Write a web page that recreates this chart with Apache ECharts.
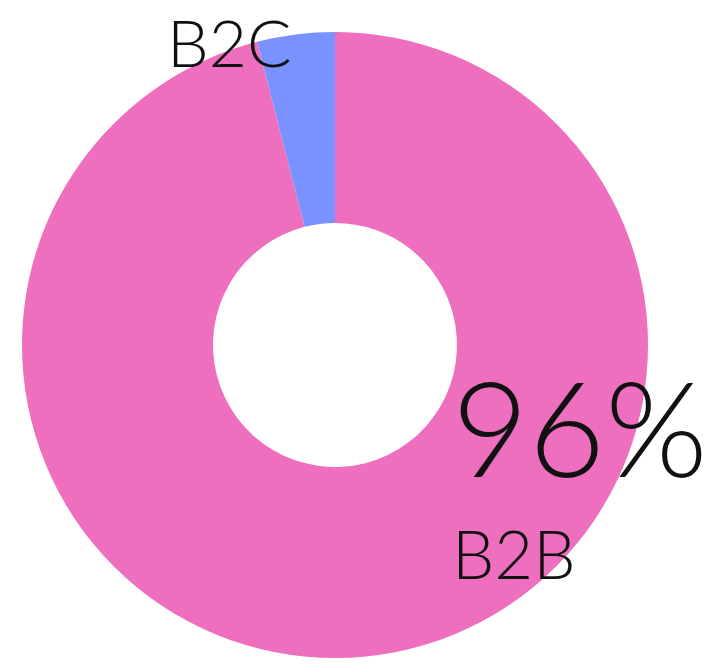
<!DOCTYPE html>
<html>
<head>
<meta charset="utf-8">
<script src="https://cdn.jsdelivr.net/npm/echarts@6/dist/echarts.min.js"></script>
<style>
  html, body { margin: 0; padding: 0; background: #fff; }
  #chartPieBox { width: 708px; height: 664px; }
</style>
</head>
<body>
<div id="chartPieBox"></div>
<script>
// 数据
var categories = ['B2B', 'B2C'];
var shares = [96, 4];
var colors = ['#ED6FBE', '#7992FF'];

var pieData = categories.map(function (name, i) {
  return { name: name, value: shares[i], itemStyle: { color: colors[i] } };
});

var chartPie = echarts.init(document.getElementById('chartPieBox'));
var option = {
  animation: false,
  series: [
    {
      type: 'pie',
      center: [335, 345],
      radius: [122, 313],
      startAngle: 90,
      clockwise: true,
      silent: true,
      data: pieData,
      label: {
        show: true,
        overflow: 'none',
        color: '#111',
        fontFamily: 'Lato',
        fontWeight: 300,
        formatter: function (p) {
          // 大块显示百分比 + 名称，小块只显示名称
          if (p.dataIndex === 0) return '{p|' + Math.round(p.percent) + '%}\n{n|' + p.name + '}';
          return '{c|' + p.name + '}';
        },
        rich: {
          p: { fontFamily: 'Lato', fontWeight: 300, fontSize: 132, lineHeight: 140, color: '#111' },
          n: { fontFamily: 'Lato', fontWeight: 300, fontSize: 67, lineHeight: 106, color: '#111' },
          c: { fontFamily: 'Lato', fontWeight: 300, fontSize: 66, lineHeight: 80, color: '#111' }
        }
      },
      labelLine: { show: false },
      labelLayout: function (params) {
        if (params.dataIndex === 0) {
          return { x: 452, y: 364, align: 'left', verticalAlign: 'top' };
        }
        return { x: 167, y: 6, align: 'left', verticalAlign: 'top' };
      }
    }
  ]
};
chartPie.setOption(option);
</script>
</body>
</html>
